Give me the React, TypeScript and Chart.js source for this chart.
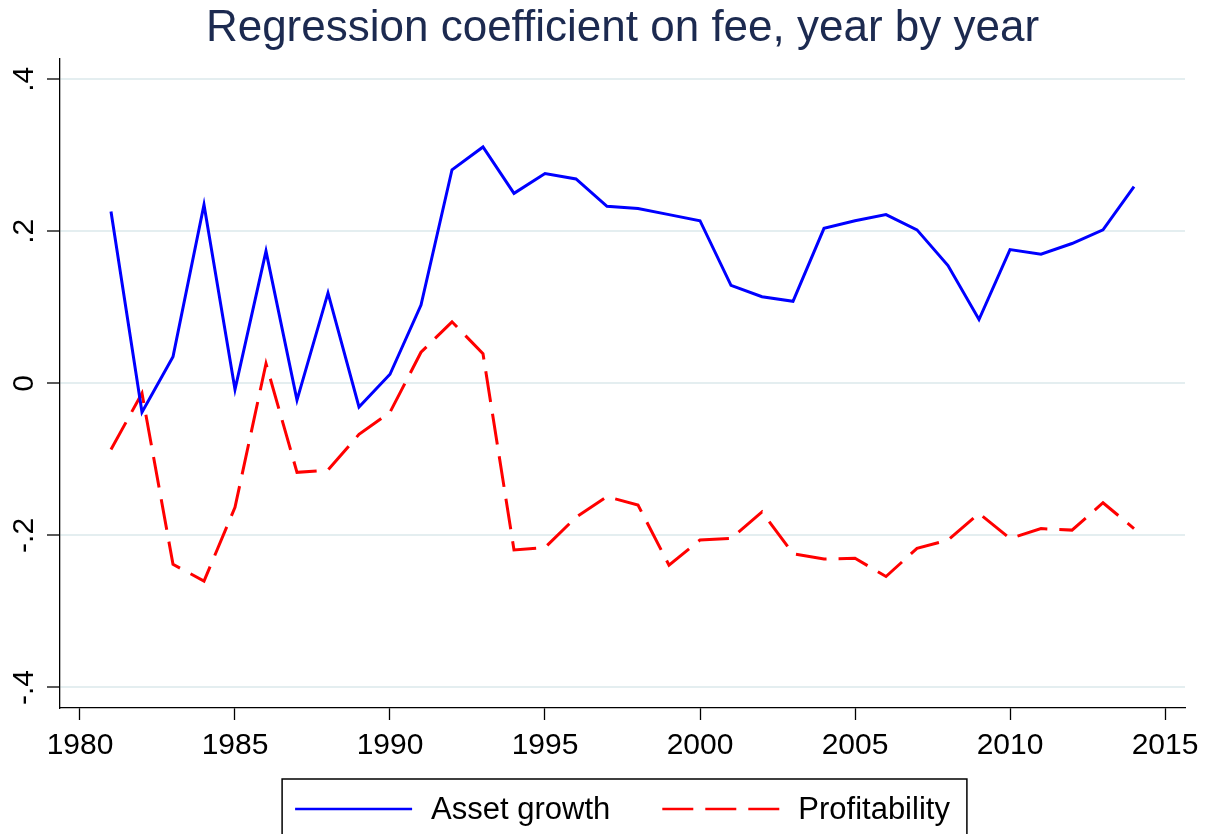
import React, { useEffect, useRef } from "react";
import { Chart, registerables } from "chart.js";

Chart.register(...registerables);

const years = [
  1981, 1982, 1983, 1984, 1985, 1986, 1987, 1988, 1989, 1990,
  1991, 1992, 1993, 1994, 1995, 1996, 1997, 1998, 1999, 2000,
  2001, 2002, 2003, 2004, 2005, 2006, 2007, 2008, 2009, 2010,
  2011, 2012, 2013, 2014,
];

const assetGrowth = [
  0.226, -0.038, 0.035, 0.235, -0.008, 0.174, -0.022, 0.119, -0.031, 0.012,
  0.103, 0.281, 0.311, 0.25, 0.276, 0.269, 0.233, 0.23, 0.222, 0.214,
  0.129, 0.114, 0.108, 0.204, 0.214, 0.222, 0.202, 0.155, 0.084, 0.176,
  0.17, 0.184, 0.202, 0.259,
];

const profitability = [
  -0.087, -0.013, -0.238, -0.26, -0.163, 0.026, -0.117, -0.114, -0.067, -0.038,
  0.041, 0.081, 0.039, -0.219, -0.216, -0.176, -0.149, -0.16, -0.239, -0.206,
  -0.204, -0.169, -0.224, -0.231, -0.23, -0.254, -0.217, -0.206, -0.171, -0.204,
  -0.191, -0.193, -0.157, -0.191,
];

const xTickValues = [1980, 1985, 1990, 1995, 2000, 2005, 2010, 2015];
const yTickValues = [-0.4, -0.2, 0, 0.2, 0.4];
const yTickLabels = ["-.4", "-.2", "0", ".2", ".4"];
const titleText = "Regression coefficient on fee, year by year";
const seriesLabels = ["Asset growth", "Profitability"];

const FONT = "'Liberation Sans', Arial, Helvetica, sans-serif";

const yLabelPlugin = {
  id: "yRotatedLabels",
  afterDraw(chart: any) {
    const ctx = chart.ctx;
    const ys = chart.scales.y;
    ctx.save();
    ctx.fillStyle = "#000";
    ctx.font = `30px ${FONT}`;
    ctx.textAlign = "center";
    ctx.textBaseline = "alphabetic";
    yTickValues.forEach((v, i) => {
      const py = ys.getPixelForValue(v);
      ctx.save();
      ctx.translate(ys.right - 27, py);
      ctx.rotate(-Math.PI / 2);
      ctx.fillText(yTickLabels[i], 0, 0);
      ctx.restore();
    });
    ctx.restore();
  },
};

const legendPlugin = {
  id: "boxedLegend",
  afterDraw(chart: any) {
    const ctx = chart.ctx;
    const ca = chart.chartArea;
    const fontSize = 31;
    const lineW = 117;
    const textGap = 19;
    const itemGap = 52;
    ctx.save();
    ctx.font = `${fontSize}px ${FONT}`;
    const items = chart.data.datasets.map((ds: any) => ({
      label: ds.label,
      color: ds.borderColor,
      dash: ds.borderDash || [],
      width: ctx.measureText(ds.label).width,
    }));
    const total =
      items.reduce((s: number, it: any) => s + lineW + textGap + it.width, 0) +
      itemGap * (items.length - 1);
    let x = (ca.left + ca.right) / 2 - total / 2;
    const cy = ca.bottom + 101;
    ctx.strokeStyle = "#000";
    ctx.lineWidth = 1.5;
    ctx.setLineDash([]);
    ctx.strokeRect(x - 13, cy - 30, total + 30, 100);
    items.forEach((it: any) => {
      ctx.save();
      ctx.strokeStyle = it.color;
      ctx.lineWidth = 2.5;
      ctx.setLineDash(it.dash);
      ctx.beginPath();
      ctx.moveTo(x, cy);
      ctx.lineTo(x + lineW, cy);
      ctx.stroke();
      ctx.restore();
      ctx.fillStyle = "#000";
      ctx.textAlign = "left";
      ctx.textBaseline = "middle";
      ctx.fillText(it.label, x + lineW + textGap, cy + 1);
      x += lineW + textGap + it.width + itemGap;
    });
    ctx.restore();
  },
};

export default function App() {
  const canvasRef = useRef<HTMLCanvasElement | null>(null);

  useEffect(() => {
    const canvas = canvasRef.current;
    if (!canvas) return;
    const chart = new Chart(canvas, {
      type: "line",
      data: {
        datasets: [
          {
            label: seriesLabels[0],
            data: years.map((y, i) => ({ x: y, y: assetGrowth[i] })),
            borderColor: "#0000ff",
            backgroundColor: "#0000ff",
            borderWidth: 3,
            pointRadius: 0,
            tension: 0,
            fill: false,
          },
          {
            label: seriesLabels[1],
            data: years.map((y, i) => ({ x: y, y: profitability[i] })),
            borderColor: "#ff0000",
            backgroundColor: "#ff0000",
            borderWidth: 3,
            borderDash: [31, 12],
            pointRadius: 0,
            tension: 0,
            fill: false,
          },
        ],
      },
      options: {
        responsive: false,
        animation: false,
        devicePixelRatio: 1,
        layout: { padding: { left: 0, right: 25, top: 0, bottom: 0 } },
        plugins: {
          title: {
            display: true,
            fullSize: false,
            text: titleText,
            color: "#1c2a50",
            font: { family: FONT, size: 44, weight: "normal", lineHeight: 1.2 },
            padding: { top: 2, bottom: 4 },
          },
          legend: { display: false },
          tooltip: { enabled: false },
        },
        scales: {
          x: {
            type: "linear",
            min: 1979.355,
            max: 2015.645,
            afterBuildTicks: (s: any) => {
              s.ticks = xTickValues.map((v) => ({ value: v }));
            },
            afterFit: (s: any) => {
              s.height = 126;
              s.paddingLeft = 0;
              s.paddingRight = 0;
            },
            ticks: {
              callback: (v: any) => String(v),
              font: { family: FONT, size: 30 },
              color: "#000",
              padding: 8,
              maxRotation: 0,
              minRotation: 0,
              autoSkip: false,
            },
            grid: {
              drawOnChartArea: false,
              drawTicks: true,
              tickLength: 12,
              tickColor: "#000",
              tickWidth: 1.3,
            },
            border: { display: true, color: "#000", width: 1.3 },
          },
          y: {
            type: "linear",
            min: -0.427,
            max: 0.427,
            afterBuildTicks: (s: any) => {
              s.ticks = yTickValues.map((v) => ({ value: v }));
            },
            afterFit: (s: any) => {
              s.width = 60;
              s.paddingTop = 0;
              s.paddingBottom = 0;
            },
            ticks: { display: false },
            grid: {
              color: "#e4eef0",
              lineWidth: 2,
              drawTicks: true,
              tickLength: 13,
              tickColor: "#000",
              tickWidth: 1.3,
            },
            border: { display: true, color: "#000", width: 1.3 },
          },
        },
      },
      plugins: [yLabelPlugin, legendPlugin],
    } as any);
    return () => chart.destroy();
  }, []);

  return (
    <div style={{ position: "fixed", left: 0, top: 0, width: 1210, height: 834, background: "#fff" }}>
      <canvas ref={canvasRef} width={1210} height={834} style={{ display: "block" }} />
    </div>
  );
}
